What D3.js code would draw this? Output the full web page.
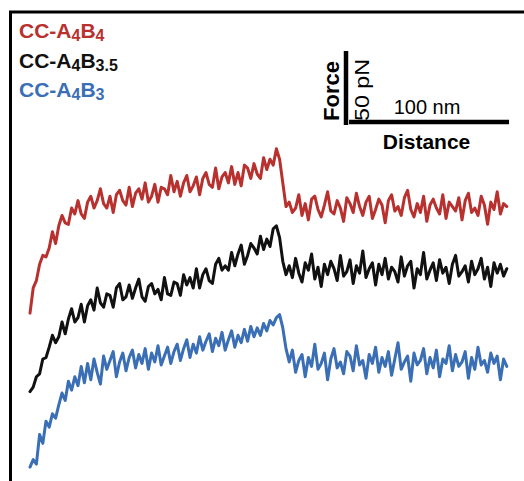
<!DOCTYPE html>
<html>
<head>
<meta charset="utf-8">
<script src="https://cdn.jsdelivr.net/npm/d3@7"></script>
<style>
  html, body { margin: 0; padding: 0; background: #fff; }
  svg { display: block; }
  text { font-family: "Liberation Sans", Arial, sans-serif; }
</style>
</head>
<body>
<div id="chart"></div>
<script>
// ---------------- data ----------------
// Force-extension traces (pN), sampled every 2 nm, each shifted vertically by an offset for display
const distanceStep = 2; // nm between samples
const seriesNames = ["CC-A4B4", "CC-A4B3.5", "CC-A4B3"];
const seriesColors = ["#b8312f", "#111111", "#3a6eb5"];
const seriesOffsets = [106, 53, 2]; // pN display offsets

const forceA4B4 = [
  0, 17, 22, 33, 39, 38, 44, 55, 47, 59, 66, 61, 60, 71, 67, 76, 67, 64, 75, 79,
  71, 76, 84, 74, 71, 79, 68, 80, 83, 76, 73, 85, 72, 81, 84, 77, 88, 75, 79, 87,
  75, 85, 84, 80, 93, 82, 89, 79, 88, 93, 82, 86, 92, 80, 91, 95, 87, 85, 98, 84,
  92, 95, 88, 99, 87, 95, 86, 100, 98, 91, 101, 94, 91, 105, 97, 104, 100, 111, 104, 88,
  72,
  75, 68, 71, 80, 66, 74, 63, 77, 79, 70,
  65, 73, 82, 69, 67, 76, 71, 62, 78, 74,
  68, 81, 72, 66, 75, 79, 64, 70, 77, 73,
  61, 76, 80, 69, 72, 66, 78, 83, 70, 65,
  74, 68, 79, 62, 73, 77, 71, 67, 80, 64,
  75, 72, 69, 78, 63, 76, 81, 68, 71, 66,
  79, 73, 60, 75, 70, 82, 67, 74, 72
];

const forceA4B35 = [
  0, 3, 10, 12, 22, 23, 30, 38, 33, 37, 47, 39, 49, 56, 47, 50, 59, 47, 58, 62,
  55, 70, 60, 57, 66, 65, 57, 70, 73, 62, 64, 72, 63, 70, 76, 64, 61, 71, 73, 66,
  69, 62, 77, 66, 65, 74, 73, 65, 79, 72, 77, 70, 83, 70, 79, 83, 75, 73, 86, 90,
  82, 85, 82, 94, 85, 93, 99, 86, 92, 100, 97, 93, 105, 96, 103, 98, 110, 112, 104, 88,
  79,
  85, 77, 90, 80, 74, 87, 82, 93, 76, 84,
  71, 86, 79, 88, 83, 75, 92, 78, 81, 89,
  73, 85, 80, 95, 77, 83, 87, 72, 86, 79,
  90, 76, 84, 81, 74, 91, 78, 85, 88, 70,
  83, 79, 94, 76, 82, 87, 75, 89, 80, 84,
  73, 86, 92, 78, 81, 85, 74, 88, 79, 83,
  90, 76, 84, 71, 87, 80, 86, 78, 83
];

const forceA4B3 = [
  0, 5, 2, 22, 16, 31, 27, 36, 33, 42, 50, 45, 58, 52, 61, 55, 68, 57, 70, 59,
  73, 64, 56, 75, 66, 72, 78, 61, 71, 77, 65, 74, 79, 67, 76, 70, 80, 66, 77, 71,
  82, 69, 75, 81, 70, 78, 83, 72, 80, 86, 74, 83, 77, 88, 79, 85, 90, 78, 87, 82,
  91, 79, 86, 92, 81, 89, 84, 93, 85, 95, 88, 94, 89, 97, 92, 99, 96, 101, 103, 94,
  80, 71,
  79, 64, 72, 76, 61, 74, 68, 83, 66, 70,
  77, 59, 73, 80, 67, 71, 63, 78, 75, 65,
  82, 69, 72, 60, 76, 70, 81, 64, 74, 68,
  78, 62, 73, 84, 66, 71, 75, 58, 77, 69,
  72, 80, 63, 74, 67, 79, 61, 73, 70, 82,
  65, 76, 68, 71, 78, 60, 74, 66, 81, 69,
  72, 64, 77, 70, 75, 59, 73, 68
];

const seriesForces = [forceA4B4, forceA4B35, forceA4B3];

// scale bars
const scaleBarDistance = 100; // nm
const scaleBarForce = 50;     // pN
const scaleBarDistanceLabel = "100 nm";
const scaleBarForceLabel = "50 pN";
const axisTitleX = "Distance";
const axisTitleY = "Force";

// ---------------- drawing ----------------
const W = 524, H = 481;
const svg = d3.select("#chart").append("svg").attr("width", W).attr("height", H);

const x = d3.scaleLinear().domain([0, 300]).range([30, 510]);
const y = d3.scaleLinear().domain([0, 300]).range([470, 26]);

// frame (top + left)
svg.append("path")
  .attr("d", `M10.5,${H} L10.5,12 L${W},12`)
  .attr("fill", "none").attr("stroke", "#000").attr("stroke-width", 3);

const line = d3.line()
  .x(d => x(d[0] * distanceStep))
  .y(d => y(d[1]));

seriesForces.forEach((arr, k) => {
  const pts = arr.map((f, i) => [i, f + seriesOffsets[k]]);
  svg.append("path")
    .datum(pts)
    .attr("fill", "none")
    .attr("stroke", seriesColors[k])
    .attr("stroke-width", 3)
    .attr("stroke-linejoin", "round")
    .attr("stroke-linecap", "round")
    .attr("d", line);
});

// legend
const legendY = [38, 68, 97];
seriesNames.forEach((name, k) => {
  const m = name.match(/^CC-A(\d)B(.+)$/);
  const t = svg.append("text")
    .attr("x", 19).attr("y", legendY[k])
    .attr("fill", seriesColors[k])
    .attr("font-size", 21).attr("font-weight", "bold");
  t.append("tspan").text("CC-A");
  t.append("tspan").attr("font-size", 16).attr("dy", 3).text(m[1]);
  t.append("tspan").attr("dy", -3).text("B");
  t.append("tspan").attr("font-size", 16).attr("dy", 3).text(m[2]);
});

// scale bars
const barX0 = 199.4;     // nm, where distance bar starts
const barF0 = 233.1;     // pN, bottom of force bar
svg.append("line")
  .attr("x1", 346).attr("x2", 346)
  .attr("y1", y(barF0)).attr("y2", y(barF0 + scaleBarForce))
  .attr("stroke", "#000").attr("stroke-width", 4.5);
svg.append("line")
  .attr("x1", x(barX0)).attr("x2", x(barX0 + scaleBarDistance))
  .attr("y1", 122).attr("y2", 122)
  .attr("stroke", "#000").attr("stroke-width", 4.5);

svg.append("text")
  .attr("transform", "translate(339,91) rotate(-90)")
  .attr("text-anchor", "middle")
  .attr("font-size", 22).attr("font-weight", "bold")
  .text(axisTitleY);
svg.append("text")
  .attr("transform", "translate(368.5,90) rotate(-90)")
  .attr("text-anchor", "middle")
  .attr("font-size", 20)
  .attr("textLength", 62).attr("lengthAdjust", "spacingAndGlyphs")
  .text(scaleBarForceLabel);
svg.append("text")
  .attr("x", 427).attr("y", 114)
  .attr("text-anchor", "middle")
  .attr("font-size", 20)
  .text(scaleBarDistanceLabel);
svg.append("text")
  .attr("x", 426.5).attr("y", 148.5)
  .attr("text-anchor", "middle")
  .attr("font-size", 21).attr("font-weight", "bold")
  .text(axisTitleX);
</script>
</body>
</html>
